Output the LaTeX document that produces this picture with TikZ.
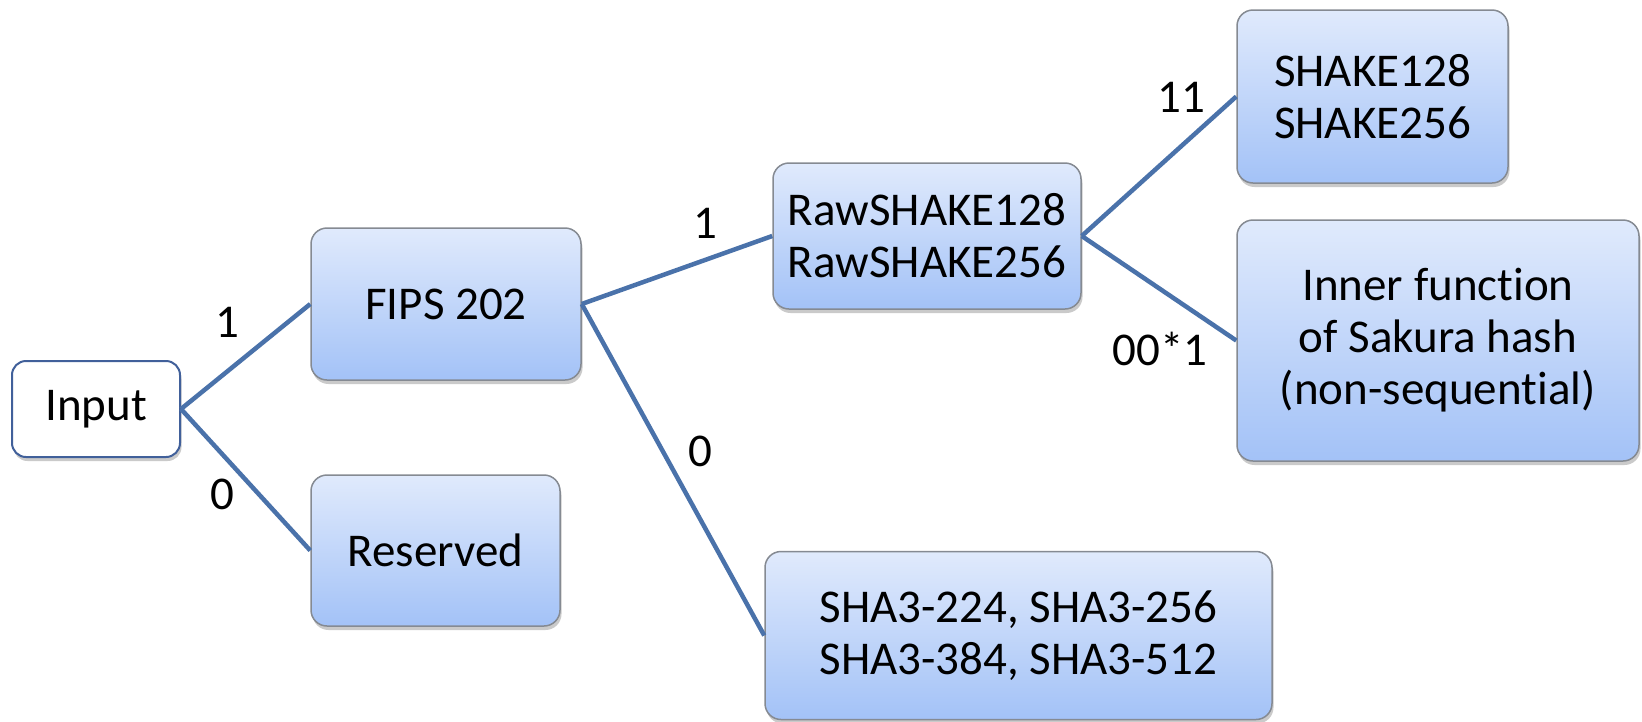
\documentclass[tikz,border=0pt]{standalone}
\usepackage{fontspec}
\setmainfont{Carlito}[Ligatures={NoCommon,NoContextual}]
\usetikzlibrary{shadows}
\definecolor{linec}{HTML}{4A72AA}
\definecolor{boxtop}{HTML}{E0EAFC}
\definecolor{boxbot}{HTML}{A3C2F7}
\definecolor{boxborder}{HTML}{858A92}
\definecolor{inborder}{HTML}{41609A}
\begin{document}
\begin{tikzpicture}[x=1pt,y=-1pt,
  txt/.style={font=\fontsize{47}{52}\selectfont, text=black},
  box/.style={txt, draw=boxborder, line width=1.5pt, rounded corners=16pt,
    top color=boxtop, bottom color=boxbot, align=center, inner sep=0pt,
    drop shadow={shadow xshift=1.5pt, shadow yshift=-4pt, opacity=0.35, fill=black!60}},
  inbox/.style={txt, draw=inborder, line width=2pt, rounded corners=14pt,
    fill=white, align=center, inner sep=0pt,
    drop shadow={shadow xshift=1.5pt, shadow yshift=-4pt, opacity=0.35, fill=black!60}},
  conn/.style={draw=linec, line width=4.5pt},
  lab/.style={txt, inner sep=0pt}]
\useasboundingbox (0,0) rectangle (1642,721);
\node[inbox, minimum width=168, minimum height=96] (input) at (96,409) {Input};
\node[box, minimum width=270, minimum height=152] (fips) at (446,304) {FIPS 202};
\node[box, minimum width=249, minimum height=151] (res) at (435.5,550.5) {Reserved};
\node[box, minimum width=308, minimum height=146] (raw) at (927,236) {RawSHAKE128\\RawSHAKE256};
\node[box, minimum width=271, minimum height=173] (shake) at (1372.5,96.5) {SHAKE128\\SHAKE256};
\node[box, minimum width=402, minimum height=241] (inner) at (1438,340.5) {Inner function\\of Sakura hash\\(non-sequen\kern0pt{}tial)};
\node[box, minimum width=507, minimum height=168] (sha) at (1018.5,635.5) {SHA3-224, SHA3-256\\SHA3-384, SHA3-512};
\draw[conn] (input.east) -- (fips.west);
\draw[conn] (input.east) -- (res.west);
\draw[conn] (fips.east) -- (raw.west);
\draw[conn] (fips.east) -- (sha.west);
\draw[conn] (raw.east) -- (shake.west);
\draw[conn] (raw.east) -- (inner.west);
\node[lab] (l1) at (227,322) {1};
\node[lab] (l2) at (222,494) {0};
\node[lab] (l3) at (705,223) {1};
\node[lab] (l4) at (700,451) {0};
\node[lab] (l5) at (1181,97) {11};
\node[lab] (l6) at (1160,349) {00*1};
\end{tikzpicture}
\end{document}
